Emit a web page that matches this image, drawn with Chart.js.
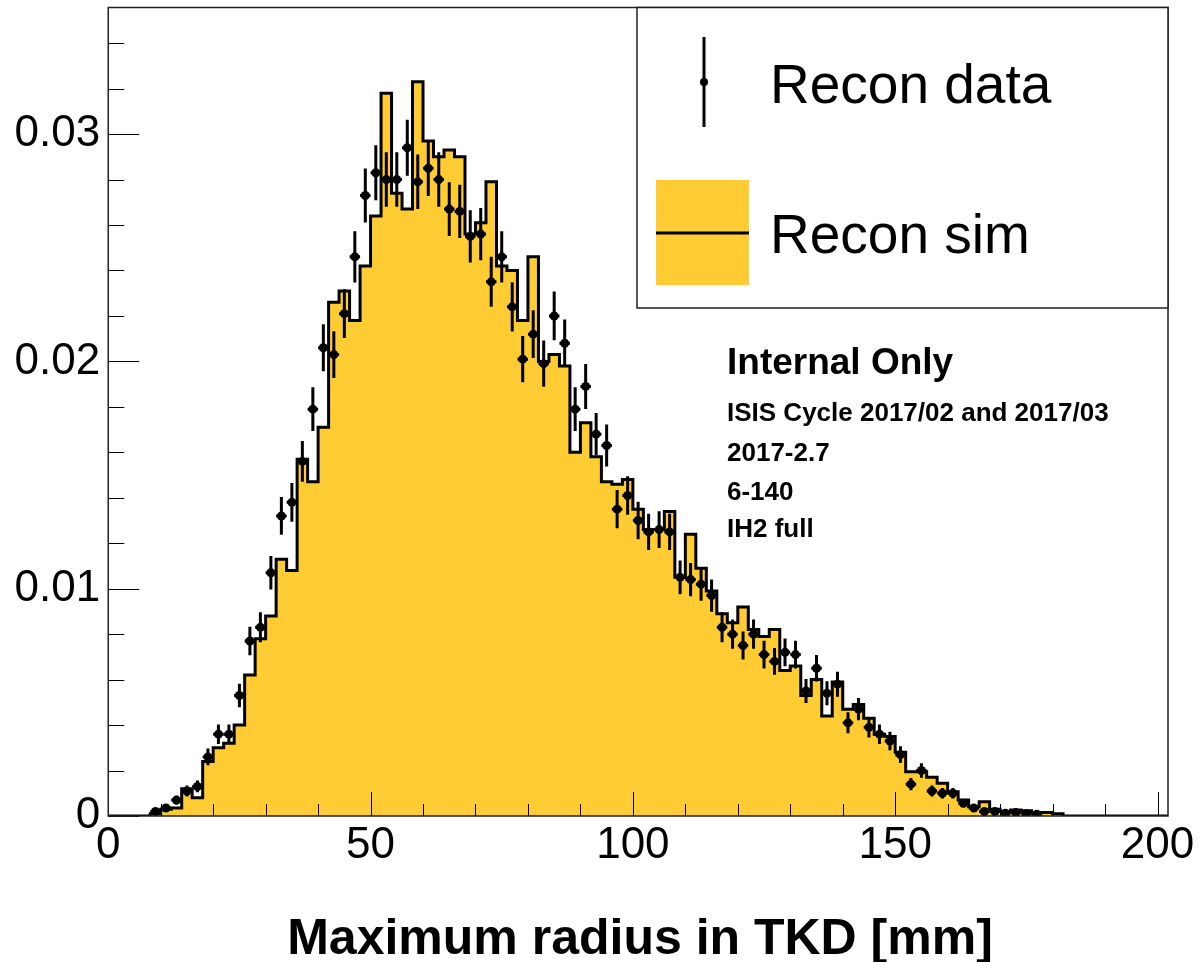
<!DOCTYPE html>
<html><head><meta charset="utf-8">
<script src="https://cdn.jsdelivr.net/npm/chart.js@4"></script>
<style>html,body{margin:0;padding:0;background:#fff;overflow:hidden}#wrap{width:1199px;height:962px;position:relative}</style>
</head><body><div id="wrap"><canvas id="c" width="1199" height="962"></canvas></div>
<script>
// ---- data ----
const binStart = 0;      // mm
const binWidth = 2;      // mm
const xRange = [0, 202];
const yRange = [0, 0.03557];
const xTickValues = [0, 50, 100, 150, 200];
const xTickLabels = ['0', '50', '100', '150', '200'];
const yTickValues = [0, 0.01, 0.02, 0.03];
const yTickLabels = ['0', '0.01', '0.02', '0.03'];
const seriesNames = ['Recon data', 'Recon sim'];
const xTitle = 'Maximum radius in TKD [mm]';
const notes = ['Internal Only', 'ISIS Cycle 2017/02 and 2017/03', '2017-2.7', '6-140', 'IH2 full'];

const simValues = [
 0,0,0,0,0.0001,0.0003,0.00035,0.0012,0.0008,0.0024,
 0.003,0.0032,0.004,0.0062,0.0078,0.0088,0.0113,0.0108,0.0157,0.0147,
 0.0171,0.0226,0.0231,0.0218,0.0242,0.0264,0.0318,0.0274,0.0267,0.0323,
 0.0297,0.029,0.0293,0.029,0.0256,0.0261,0.0279,0.0242,0.024,0.0218,
 0.0246,0.02,0.0203,0.0198,0.016,0.0173,0.0158,0.0147,0.0146,0.0148,
 0.0135,0.0126,0.0126,0.0134,0.0105,0.0124,0.0109,0.0099,0.0089,0.0085,
 0.0092,0.0082,0.0079,0.0082,0.0064,0.0066,0.0053,0.006,0.0044,0.0059,
 0.0047,0.0049,0.0043,0.0036,0.0035,0.0028,0.00195,0.00195,0.0017,0.00144,
 0.00107,0.0007,0.00041,0.00063,0.0003,0.0002,0.00026,0.00023,0.00015,0.00015,
 0.0001,0,0,0,0,0,0,0,0,0,
 0];

const dataValues = [
 null,null,null,null,0.0002,0.00035,0.0007,0.0011,0.0013,0.0026,
 0.0036,0.0036,0.0053,0.0077,0.0083,0.0107,0.0132,0.0138,0.0156,0.0179,
 0.0206,0.0203,0.0221,0.0246,0.0273,0.0283,0.028,0.028,0.0294,0.0279,
 0.0285,0.028,0.0267,0.0266,0.0255,0.0256,0.0235,0.0246,0.0224,0.0201,
 0.0212,0.0199,0.022,0.0208,0.0179,0.0189,0.0168,0.0163,0.0135,0.0141,
 0.013,0.0125,0.0126,0.0125,0.0105,0.0104,0.0102,0.0097,0.0083,0.008,
 0.0075,0.008,0.0071,0.0068,0.0072,0.0071,0.0055,0.0065,0.0054,0.0058,
 0.0041,0.0047,0.0039,0.0036,0.0033,0.0027,0.0014,0.002,0.0011,0.001,
 0.001,0.00056,0.00035,0.0002,0.0002,0.00012,0.00015,0.0001,0.00008,null,
 null,null,null,null,null,null,null,null,null,null,
 null];

const dataErrors = [
 0,0,0,0,0.0001,0.00013,0.00019,0.00024,0.00026,0.00037,
 0.00043,0.00043,0.00052,0.00063,0.00066,0.00074,0.00083,0.00085,0.0009,0.00096,
 0.00103,0.00103,0.00107,0.00113,0.00119,0.00121,0.0012,0.0012,0.00123,0.0012,
 0.00122,0.0012,0.00118,0.00117,0.00115,0.00115,0.0011,0.00113,0.00108,0.00102,
 0.00105,0.00102,0.00107,0.00104,0.00096,0.00099,0.00093,0.00092,0.00084,0.00085,
 0.00082,0.0008,0.00081,0.0008,0.00074,0.00073,0.00073,0.00071,0.00066,0.00064,
 0.00062,0.00064,0.00061,0.00059,0.00061,0.00061,0.00053,0.00058,0.00053,0.00055,
 0.00046,0.00049,0.00045,0.00043,0.00041,0.00037,0.00027,0.00032,0.00024,0.00023,
 0.00023,0.00017,0.00013,0.0001,0.0001,0.00008,0.00009,0.00007,0.00006,0,
 0,0,0,0,0,0,0,0,0,0,
 0];

// ---- derived structures ----
const binLow = simValues.map((_, i) => binStart + i * binWidth);
const binCenter = binLow.map(b => b + binWidth / 2);
const simSteps = simValues.map((v, i) => ({x: binLow[i], y: v}));
simSteps.push({x: binLow[binLow.length - 1] + binWidth, y: simValues[simValues.length - 1]});
const dataPoints = dataValues.map((v, i) => ({x: binCenter[i], y: v}));

const FONT = "'Liberation Sans', Arial, Helvetica, sans-serif";
const SIM_COLOR = '#FFCC33';

const rootDecor = {
  id: 'rootDecor',
  afterDatasetsDraw(chart) {
    const {ctx, chartArea: a, scales: {x, y}} = chart;
    ctx.save();
    // error bars
    ctx.strokeStyle = '#000';
    ctx.lineWidth = 3;
    dataValues.forEach((v, i) => {
      if (v === null) return;
      const cx = x.getPixelForValue(binCenter[i]);
      const cy = y.getPixelForValue(v);
      const yt = y.getPixelForValue(v + dataErrors[i]);
      const yb = y.getPixelForValue(Math.max(0, v - dataErrors[i]));
      const xl = x.getPixelForValue(binLow[i]);
      const xr = x.getPixelForValue(binLow[i] + binWidth);
      ctx.beginPath();
      ctx.moveTo(cx, yt); ctx.lineTo(cx, yb);
      ctx.moveTo(xl, cy); ctx.lineTo(xr, cy);
      ctx.stroke();
    });
    // inward ticks
    ctx.lineWidth = 1;
    ctx.strokeStyle = '#000';
    ctx.beginPath();
    for (let t = 0; t <= 200; t += 10) {
      const px = Math.round(x.getPixelForValue(t)) + 0.5;
      const len = t % 50 === 0 ? 24 : 12;
      ctx.moveTo(px, a.bottom); ctx.lineTo(px, a.bottom - len);
    }
    for (let k = 0; k <= 17; k++) {
      const py = Math.round(y.getPixelForValue(k * 0.002)) + 0.5;
      const len = k % 5 === 0 ? 31 : 16;
      ctx.moveTo(a.left, py); ctx.lineTo(a.left + len, py);
    }
    ctx.stroke();
    // frame
    ctx.strokeStyle = '#222';
    ctx.lineWidth = 1.5;
    ctx.strokeRect(a.left, a.top, a.right - a.left, a.bottom - a.top);
    ctx.restore();
  },
  afterDraw(chart) {
    const {ctx, chartArea: a} = chart;
    ctx.save();
    // legend box
    const lx = 637, ly = a.top, lw = a.right - 637, lh = 308 - a.top;
    ctx.fillStyle = '#fff';
    ctx.fillRect(lx, ly, lw, lh);
    ctx.strokeStyle = '#222';
    ctx.lineWidth = 1.5;
    ctx.strokeRect(lx, ly, lw, lh);
    // data symbol
    ctx.strokeStyle = '#000';
    ctx.lineWidth = 3;
    ctx.beginPath(); ctx.moveTo(704, 37); ctx.lineTo(704, 127); ctx.stroke();
    ctx.fillStyle = '#000';
    ctx.beginPath(); ctx.arc(704, 82, 4, 0, Math.PI * 2); ctx.fill();
    // sim symbol
    ctx.fillStyle = SIM_COLOR;
    ctx.fillRect(656, 180, 93, 105);
    ctx.beginPath(); ctx.moveTo(656, 233); ctx.lineTo(749, 233); ctx.stroke();
    // legend text
    ctx.fillStyle = '#000';
    ctx.textAlign = 'left';
    ctx.textBaseline = 'alphabetic';
    ctx.font = '55px ' + FONT;
    ctx.fillText(chart.data.datasets[0].label, 770, 103);
    ctx.fillText(chart.data.datasets[1].label, 770, 253);
    // notes
    ctx.font = 'bold 37px ' + FONT;
    ctx.fillText(notes[0], 727, 374);
    ctx.font = 'bold 26px ' + FONT;
    const base = [421, 461, 500, 537];
    for (let i = 1; i < notes.length; i++) ctx.fillText(notes[i], 727, base[i - 1]);
    // x title
    ctx.font = 'bold 50px ' + FONT;
    ctx.textAlign = 'center';
    ctx.fillText(xTitle, 640, 954);
    ctx.restore();
  }
};

function noPad(s) { s.paddingLeft = 0; s.paddingRight = 0; s.paddingTop = 0; s.paddingBottom = 0; }

new Chart(document.getElementById('c'), {
  type: 'line',
  data: {
    datasets: [
      {
        label: seriesNames[0],
        type: 'scatter',
        data: dataPoints,
        showLine: false,
        pointRadius: 4.5,
        pointBackgroundColor: '#000',
        pointBorderColor: '#000',
        pointBorderWidth: 0,
        order: 0
      },
      {
        label: seriesNames[1],
        type: 'line',
        data: simSteps,
        stepped: 'before',
        borderColor: '#000',
        borderWidth: 3,
        backgroundColor: SIM_COLOR,
        fill: 'origin',
        pointRadius: 0,
        tension: 0,
        order: 1
      }
    ]
  },
  options: {
    responsive: false,
    animation: false,
    events: [],
    layout: {padding: {left: 0, right: 31, top: 7.5, bottom: 0}},
    plugins: {legend: {display: false}, tooltip: {enabled: false}},
    scales: {
      x: {
        type: 'linear',
        min: xRange[0], max: xRange[1],
        grid: {display: false, drawTicks: false},
        border: {display: false},
        afterBuildTicks: (s) => { s.ticks = xTickValues.map(v => ({value: v})); },
        ticks: {
          autoSkip: false, maxRotation: 0,
          padding: 3, color: '#000',
          font: {family: FONT, size: 44},
          callback: (v, i) => xTickLabels[i]
        },
        afterFit: (s) => { s.height = 146; noPad(s); }
      },
      y: {
        type: 'linear',
        min: yRange[0], max: yRange[1],
        grid: {display: false, drawTicks: false},
        border: {display: false},
        afterBuildTicks: (s) => { s.ticks = yTickValues.map(v => ({value: v})); },
        ticks: {
          autoSkip: false,
          padding: 8, color: '#000',
          font: {family: FONT, size: 44},
          callback: (v, i) => yTickLabels[i]
        },
        afterFit: (s) => { s.width = 108.25; noPad(s); }
      }
    }
  },
  plugins: [rootDecor]
});
</script>
</body></html>
